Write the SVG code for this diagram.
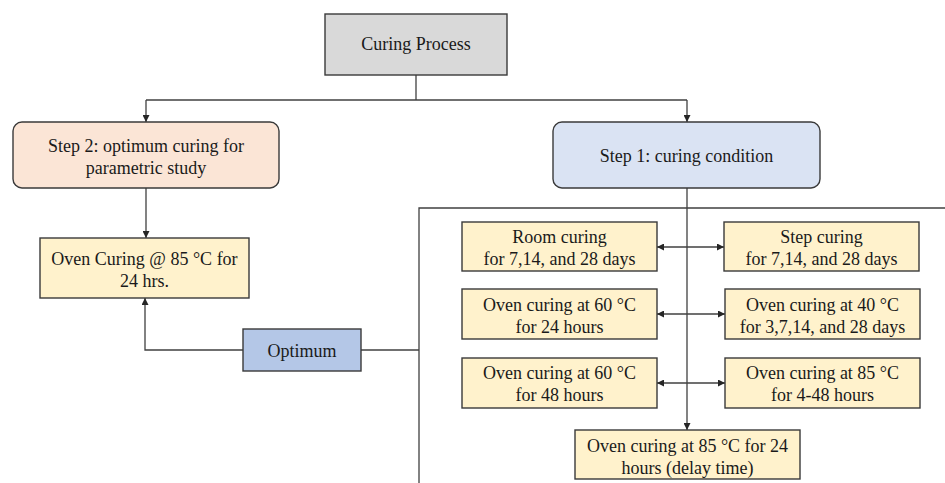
<svg xmlns="http://www.w3.org/2000/svg" width="945" height="483" viewBox="0 0 945 483">
<defs>
<marker id="ah" viewBox="0 0 10 10" refX="10" refY="5" markerWidth="7" markerHeight="7" markerUnits="userSpaceOnUse" orient="auto-start-reverse"><path d="M0,0 L10,5 L0,10 Z" fill="#262626"/></marker>
<style>
.b{stroke:#3a3a3a;stroke-width:1.4}
.y{fill:#fff2cc}
.t{font-family:"Liberation Serif","Times New Roman",serif;font-size:18px;fill:#1a1a1a;text-anchor:middle}
.c{fill:none;stroke:#404040;stroke-width:1.3}
</style>
</defs>
<rect width="945" height="483" fill="#ffffff"/>
<g id="connectors">
<path class="c" d="M416,75 V100"/>
<path class="c" d="M146,100 H687"/>
<path class="c" d="M146,100 V122" marker-end="url(#ah)"/>
<path class="c" d="M687,100 V122" marker-end="url(#ah)"/>
<path class="c" d="M146,188 V238" marker-end="url(#ah)"/>
<path class="c" d="M243,350 H145 V298" marker-end="url(#ah)"/>
<path class="c" d="M361,350 H419"/>
<path class="c" d="M419,483 V208 H945"/>
<path class="c" d="M687,188 V430" marker-end="url(#ah)"/>
<path class="c" d="M657,247 H724" marker-start="url(#ah)" marker-end="url(#ah)"/>
<path class="c" d="M657,314 H725" marker-start="url(#ah)" marker-end="url(#ah)"/>
<path class="c" d="M657,383 H725" marker-start="url(#ah)" marker-end="url(#ah)"/>
</g>
<g id="curing-process">
<rect class="b" x="325" y="14" width="182" height="61" fill="#d9d9d9"/>
<text class="t" x="416" y="50">Curing Process</text>
</g>
<g id="step2">
<rect class="b" x="13" y="122" width="266" height="66" rx="9" fill="#fbe5d6"/>
<text class="t" x="146" y="152">Step 2: optimum curing for</text>
<text class="t" x="146" y="174">parametric study</text>
</g>
<g id="step1">
<rect class="b" x="553" y="122" width="267" height="66" rx="9" fill="#dae3f3"/>
<text class="t" x="686.5" y="162">Step 1: curing condition</text>
</g>
<g id="oven-85-24">
<rect class="b y" x="40" y="238" width="209" height="60"/>
<text class="t" x="144.5" y="265">Oven Curing @ 85 °C for</text>
<text class="t" x="144.5" y="287">24 hrs.</text>
</g>
<g id="optimum">
<rect class="b" x="243" y="329" width="118" height="42" fill="#b4c7e7"/>
<text class="t" x="302" y="357">Optimum</text>
</g>
<g id="room">
<rect class="b y" x="462" y="222" width="195" height="49"/>
<text class="t" x="559.5" y="243">Room curing</text>
<text class="t" x="559.5" y="265">for 7,14, and 28 days</text>
</g>
<g id="step-curing">
<rect class="b y" x="724" y="222" width="195" height="49"/>
<text class="t" x="821.5" y="243">Step curing</text>
<text class="t" x="821.5" y="265">for 7,14, and 28 days</text>
</g>
<g id="oven-60-24">
<rect class="b y" x="462" y="289" width="195" height="50"/>
<text class="t" x="559.5" y="310.5">Oven curing at 60 °C</text>
<text class="t" x="559.5" y="333">for 24 hours</text>
</g>
<g id="oven-40">
<rect class="b y" x="725" y="289" width="195" height="50"/>
<text class="t" x="822.5" y="310.5">Oven curing at 40 °C</text>
<text class="t" x="822.5" y="333">for 3,7,14, and 28 days</text>
</g>
<g id="oven-60-48">
<rect class="b y" x="462" y="358" width="195" height="50"/>
<text class="t" x="559.5" y="379">Oven curing at 60 °C</text>
<text class="t" x="559.5" y="401">for 48 hours</text>
</g>
<g id="oven-85-4-48">
<rect class="b y" x="725" y="358" width="195" height="50"/>
<text class="t" x="822.5" y="379">Oven curing at 85 °C</text>
<text class="t" x="822.5" y="401">for 4-48 hours</text>
</g>
<g id="oven-85-delay">
<rect class="b y" x="575" y="430" width="225" height="49"/>
<text class="t" x="687.5" y="452">Oven curing at 85 °C for 24</text>
<text class="t" x="687.5" y="473.5">hours (delay time)</text>
</g>
</svg>
